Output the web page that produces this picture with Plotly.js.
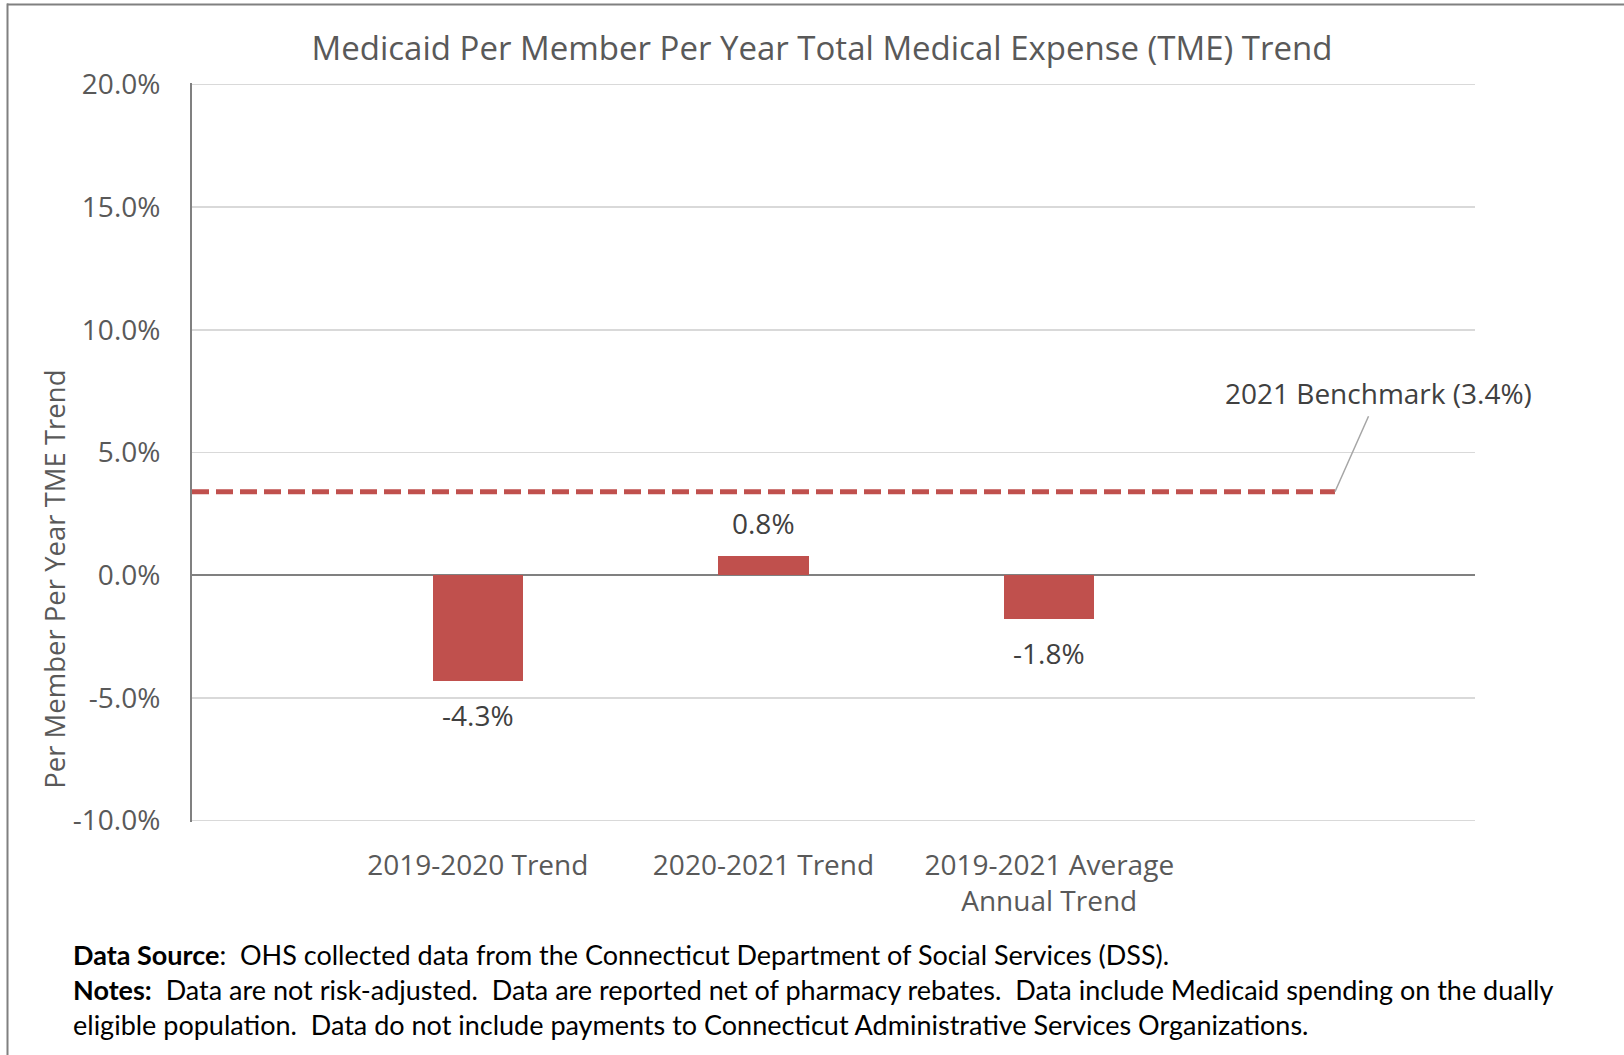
<!DOCTYPE html>
<html>
<head>
<meta charset="utf-8">
<script src="https://cdn.plot.ly/plotly-3.0.1.min.js"></script>
<style>
html,body{margin:0;padding:0;background:#fff;}
#chart{width:1624px;height:1055px;}
</style>
</head>
<body>
<div id="chart"></div>
<script>
const categories = ["2019-2020 Trend", "2020-2021 Trend", "2019-2021 Average<br>Annual Trend"];
const trendValues = [-4.3, 0.8, -1.8];
const benchmarkValue = 3.4;
const benchmarkLabel = "2021 Benchmark (3.4%)";
const yTickVals = [-10, -5, 0, 5, 10, 15, 20];
const yTickText = ["-10.0%", "-5.0%", "0.0%", "5.0%", "10.0%", "15.0%", "20.0%"];
const titleText = "Medicaid Per Member Per Year Total Medical Expense (TME) Trend";
const yTitleText = "Per Member Per Year TME Trend";
const footLines = [
  "<b>Data Source</b>:  OHS collected data from the Connecticut Department of Social Services (DSS).",
  "<b>Notes:</b>  Data are not risk-adjusted.  Data are reported net of pharmacy rebates.  Data include Medicaid spending on the dually",
  "eligible population.  Data do not include payments to Connecticut Administrative Services Organizations."
];

const barColor = "#C0504D";
const xPos = categories.map((c, i) => i + 1);

// plot area pixel geometry
const L = 192, R = 1475, T = 82.5, B = 822.5;
const W = 1624, H = 1055;
const px2x = p => (p - L) / (R - L);
const px2y = p => (B - p) / (B - T);

const bars = {
  type: "bar",
  x: xPos,
  y: trendValues,
  width: 0.315,
  marker: {color: barColor, line: {width: 0}},
  hoverinfo: "skip",
  showlegend: false
};
const bench = {
  type: "scatter",
  mode: "lines",
  x: [0, categories.length + 1],
  y: [benchmarkValue, benchmarkValue],
  line: {color: barColor, width: 5, dash: "17px,7px"},
  hoverinfo: "skip",
  showlegend: false
};

const annotations = trendValues.map((v, i) => ({
  x: xPos[i], y: v, xref: "x", yref: "y",
  text: v.toFixed(1) + "%",
  showarrow: false,
  yanchor: "middle",
  yshift: v >= 0 ? 33 : -34,
  font: {family: "Open Sans", size: 28, color: "#404040"}
}));
annotations.push({
  x: categories.length + 1, y: benchmarkValue, xref: "x", yref: "y",
  text: benchmarkLabel,
  showarrow: true, arrowhead: 0, arrowwidth: 1.5, arrowcolor: "#a6a6a6",
  ax: 44, ay: -99, standoff: 0, borderpad: 4,
  font: {family: "Open Sans", size: 28, color: "#404040"}
});
annotations.push({
  xref: "paper", yref: "paper",
  x: px2x(55), y: px2y(580),
  xanchor: "center", yanchor: "middle",
  text: yTitleText, textangle: -90, showarrow: false,
  font: {family: "Open Sans", size: 27.5, color: "#595959"}
});
const footY = [955, 990, 1025];
footLines.forEach((t, i) => {
  annotations.push({
    xref: "paper", yref: "paper",
    x: px2x(71), y: px2y(footY[i]),
    xanchor: "left", yanchor: "middle",
    text: t, showarrow: false,
    font: {family: "Lato", size: 27, color: "#000000"}
  });
});

const layout = {
  width: W, height: H,
  margin: {l: L, r: W - R, t: T, b: H - B, autoexpand: false},
  paper_bgcolor: "#fff",
  plot_bgcolor: "#fff",
  title: {
    text: titleText,
    x: 822 / W, xanchor: "center",
    y: 1 - 48 / H, yanchor: "middle",
    font: {family: "Open Sans", size: 33, color: "#595959"}
  },
  xaxis: {
    range: [0, 4.49],
    tickvals: xPos,
    ticktext: categories,
    showgrid: false,
    zeroline: false,
    showline: false,
    ticks: "",
    ticklen: 0,
    ticklabelstandoff: 24,
    tickfont: {family: "Open Sans", size: 28, color: "#595959"},
    fixedrange: true
  },
  yaxis: {
    range: [-10.06, 20.06],
    tickvals: yTickVals,
    ticktext: yTickText,
    showgrid: true,
    gridcolor: "#d9d9d9",
    gridwidth: 1.5,
    zeroline: true,
    zerolinecolor: "#808080",
    zerolinewidth: 2,
    showline: true,
    linecolor: "#808080",
    linewidth: 2,
    ticks: "",
    ticklabelstandoff: 24,
    tickfont: {family: "Open Sans", size: 28, color: "#595959"},
    fixedrange: true
  },
  annotations: annotations,
  shapes: [
    {type: "line", xref: "paper", yref: "paper",
     x0: px2x(7), x1: px2x(W + 5), y0: px2y(4), y1: px2y(4),
     line: {color: "#808080", width: 2}},
    {type: "line", xref: "paper", yref: "paper",
     x0: px2x(7.5), x1: px2x(7.5), y0: px2y(3), y1: px2y(H + 5),
     line: {color: "#808080", width: 2}}
  ],
  bargap: 0
};

Plotly.newPlot("chart", [bars, bench], layout, {staticPlot: true, displayModeBar: false});
</script>
</body>
</html>
